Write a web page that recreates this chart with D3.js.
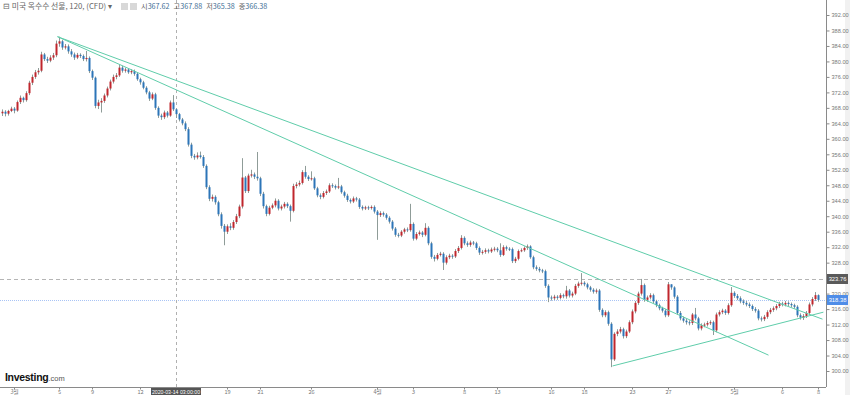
<!DOCTYPE html>
<html>
<head>
<meta charset="utf-8">
<script src="https://cdn.jsdelivr.net/npm/d3@7"></script>
<style>
  body { margin: 0; background: #fff; }
  svg { display: block; }
</style>
</head>
<body>
<div id="chart"></div>
<script>
// 120-minute candles, US corn futures (CFD). open of each bar = previous close
const firstOpen = 366.6
const closes = [
  367.0, 366.5, 367.2, 367.8, 367.3, 369.5, 370.6, 370.0, 371.8, 374.5,
  376.0, 377.2, 377.6, 381.8, 380.6, 380.2, 381.0, 381.6, 384.6, 385.2,
  383.6, 383.9, 382.6, 381.8, 381.0, 381.7, 381.4, 380.6, 380.9, 377.5,
  375.8, 368.5, 369.4, 369.8, 371.2, 373.0, 374.8, 376.0, 376.4, 378.4,
  377.6, 377.9, 377.2, 377.5, 376.8, 375.4, 374.6, 373.2, 372.0, 370.4,
  371.5, 368.0, 366.0, 365.6, 366.8, 366.0, 369.4, 367.62, 366.38, 365.0,
  364.0, 362.5, 358.5, 355.6, 355.2, 355.7, 355.3, 353.0, 347.5, 344.5,
  345.0, 343.6, 340.5, 337.5, 336.0, 337.4, 337.0, 338.5, 340.0, 342.5,
  350.0, 346.5, 350.5, 350.8, 350.2, 349.8, 345.8, 342.6, 340.6, 342.2,
  342.8, 344.0, 342.0, 342.5, 343.2, 342.6, 341.4, 347.8, 348.2, 348.6,
  351.4, 350.2, 349.6, 349.8, 347.2, 345.4, 345.0, 346.0, 346.4, 348.0,
  347.8, 347.4, 347.7, 346.2, 345.3, 344.2, 343.8, 344.6, 344.3, 342.4,
  342.0, 342.3, 342.1, 342.4, 341.2, 340.3, 340.8, 340.4, 339.6, 338.6,
  336.8, 335.2, 335.0, 336.0, 336.6, 336.4, 338.0, 334.2, 335.4, 335.8,
  335.2, 337.0, 333.0, 329.5, 329.0, 330.0, 330.3, 328.0, 329.4, 329.8,
  329.6, 331.0, 331.8, 334.4, 333.0, 332.6, 333.2, 333.0, 331.8, 330.6,
  330.8, 331.2, 330.9, 331.4, 331.6, 331.2, 330.0, 332.0, 331.6, 331.5,
  328.4, 329.0, 331.0, 331.2, 331.8, 332.2, 329.4, 326.8, 326.4, 326.0,
  325.8, 322.0, 319.0, 318.8, 319.2, 318.9, 319.6, 319.3, 320.8, 319.5,
  320.0, 322.0, 322.6, 322.8, 322.4, 321.6, 321.0, 320.5, 320.8, 315.8,
  314.4, 315.2, 312.2, 303.0, 309.6, 310.2, 310.8, 309.0, 310.2, 312.6,
  315.4, 317.6, 320.0, 322.2, 318.4, 319.0, 319.6, 318.0, 317.0, 316.2,
  315.6, 314.4, 322.4, 321.6, 319.2, 315.0, 313.6, 313.0, 312.6, 312.4,
  314.6, 313.6, 311.0, 311.8, 312.0, 312.4, 312.6, 310.5, 314.6, 315.2,
  315.6, 315.0, 317.0, 320.2, 319.4, 318.8, 318.0, 317.6, 317.2, 316.8,
  316.0, 315.6, 313.6, 313.4, 314.0, 315.2, 315.8, 316.2, 316.8, 317.4,
  317.2, 317.6, 317.3, 317.0, 316.6, 314.4, 313.8, 314.2, 315.0, 317.2,
  318.6, 319.6, 318.38
]
const highs = [
  367.6, 367.4, 367.5, 368.3, 368.2, 369.9, 371.2, 370.9, 372.3, 375.0,
  376.6, 377.8, 378.3, 382.5, 382.2, 381.2, 381.6, 382.2, 385.4, 386.4,
  385.6, 384.5, 384.4, 383.2, 382.3, 382.2, 382.1, 381.8, 382.7, 381.3,
  377.9, 376.1, 370.1, 370.5, 371.7, 373.5, 375.3, 376.6, 377.0, 379.1,
  378.9, 378.4, 378.3, 378.0, 377.9, 377.2, 375.8, 375.0, 373.6, 372.4,
  372.0, 371.9, 368.4, 366.5, 367.3, 367.2, 369.9, 371.3, 367.88, 366.7,
  365.4, 364.5, 363.0, 359.0, 356.1, 356.5, 356.7, 355.8, 353.4, 348.0,
  345.6, 345.4, 344.0, 341.0, 338.0, 337.9, 338.2, 339.0, 340.6, 343.0,
  355.0, 350.4, 351.0, 352.0, 351.3, 356.6, 350.2, 346.3, 343.0, 342.7,
  343.3, 344.6, 344.4, 343.0, 343.7, 343.6, 343.0, 348.4, 348.8, 349.2,
  351.9, 353.0, 350.6, 351.6, 350.2, 347.6, 345.9, 346.5, 346.9, 348.5,
  348.5, 348.2, 349.9, 348.1, 346.6, 345.8, 344.6, 345.1, 345.0, 344.7,
  342.8, 342.7, 342.7, 342.8, 342.8, 341.6, 341.3, 341.2, 340.8, 340.0,
  339.0, 337.2, 335.7, 336.4, 337.0, 337.1, 343.2, 338.4, 335.9, 336.3,
  336.2, 338.2, 337.4, 333.4, 330.0, 330.5, 330.8, 330.7, 329.9, 330.3,
  330.2, 331.5, 332.3, 335.1, 334.8, 333.5, 333.7, 333.6, 333.4, 332.2,
  331.3, 331.7, 331.6, 331.9, 332.1, 332.0, 333.0, 332.5, 332.4, 332.0,
  331.9, 329.5, 331.4, 331.7, 332.2, 332.7, 332.5, 329.8, 327.3, 326.9,
  326.4, 326.2, 322.4, 319.5, 319.7, 319.6, 320.1, 320.0, 322.0, 321.2,
  320.5, 322.5, 323.1, 325.3, 323.2, 322.8, 322.0, 321.4, 321.3, 321.2,
  316.2, 315.7, 315.6, 312.6, 310.0, 310.8, 311.4, 311.2, 310.7, 313.1,
  315.9, 318.1, 320.5, 323.8, 322.6, 319.5, 320.1, 320.0, 318.4, 317.4,
  316.6, 316.0, 323.0, 322.4, 321.9, 319.6, 315.5, 314.1, 313.5, 313.1,
  315.0, 316.3, 314.0, 312.3, 312.5, 312.9, 313.1, 313.0, 315.1, 315.7,
  316.1, 316.0, 317.5, 321.7, 320.6, 319.9, 319.3, 318.5, 318.1, 317.7,
  317.2, 316.5, 316.0, 314.1, 314.5, 315.7, 316.3, 316.7, 317.3, 317.9,
  317.9, 318.1, 318.0, 317.7, 317.4, 317.0, 314.9, 314.7, 315.5, 317.7,
  319.1, 320.4, 319.8
]
const lows = [
  365.9, 365.8, 366.0, 366.9, 366.6, 367.0, 369.0, 369.4, 369.6, 371.3,
  373.9, 375.5, 376.6, 377.2, 380.1, 379.6, 379.8, 380.4, 381.1, 383.8,
  383.0, 383.1, 382.0, 381.2, 380.4, 380.6, 380.9, 380.1, 380.0, 377.0,
  375.2, 367.9, 367.7, 366.8, 369.3, 370.7, 372.5, 374.3, 375.4, 376.0,
  377.1, 377.1, 376.8, 376.7, 376.3, 375.0, 374.0, 372.8, 371.5, 369.8,
  370.0, 367.5, 365.4, 364.9, 365.1, 365.5, 365.7, 367.2, 365.38, 364.5,
  363.5, 362.0, 358.0, 355.0, 354.6, 354.7, 354.9, 352.5, 347.0, 343.9,
  343.8, 343.0, 340.0, 336.8, 332.5, 335.4, 336.4, 336.5, 338.0, 339.5,
  342.0, 346.0, 346.0, 350.0, 349.6, 349.2, 345.2, 342.0, 340.0, 340.2,
  341.8, 342.3, 341.5, 341.5, 342.0, 342.1, 338.6, 341.0, 347.2, 347.7,
  348.2, 349.7, 349.1, 349.2, 346.8, 344.9, 344.4, 344.6, 345.5, 346.0,
  347.3, 346.9, 347.0, 345.8, 344.8, 343.7, 343.3, 343.4, 343.8, 341.9,
  341.5, 341.6, 341.6, 341.7, 340.7, 333.9, 339.8, 339.9, 339.1, 338.1,
  336.3, 334.7, 334.5, 334.6, 335.5, 335.9, 336.0, 333.7, 333.8, 335.0,
  334.6, 334.8, 332.5, 329.0, 328.3, 328.6, 329.6, 326.1, 327.5, 328.9,
  329.0, 329.2, 330.5, 331.4, 332.5, 332.1, 332.1, 332.5, 331.3, 330.0,
  330.1, 330.3, 330.4, 330.5, 330.9, 330.7, 329.5, 329.7, 331.1, 331.0,
  327.9, 327.9, 328.6, 330.7, 330.8, 331.3, 329.0, 326.3, 325.9, 325.5,
  325.3, 321.5, 317.8, 318.2, 318.3, 318.4, 318.5, 318.8, 318.7, 319.0,
  319.0, 319.6, 321.5, 322.1, 321.9, 321.1, 320.5, 320.0, 320.0, 315.3,
  313.9, 313.9, 311.7, 301.0, 302.6, 309.0, 309.7, 308.4, 308.5, 309.8,
  312.1, 314.9, 317.1, 319.5, 317.9, 317.9, 318.5, 317.5, 316.5, 315.7,
  315.1, 313.9, 314.0, 321.0, 318.7, 314.5, 313.1, 312.5, 312.0, 311.8,
  311.9, 313.1, 310.5, 310.5, 311.3, 311.5, 311.9, 309.3, 310.0, 314.1,
  314.7, 314.5, 314.6, 316.6, 318.9, 318.3, 317.5, 317.1, 316.7, 316.3,
  315.5, 315.1, 313.1, 312.8, 312.9, 313.5, 314.7, 315.3, 315.7, 316.3,
  316.7, 316.7, 316.8, 316.5, 316.1, 313.9, 313.3, 313.2, 313.7, 314.5,
  316.7, 318.1, 317.9
]

// bottom axis: bar index of each date label
const tickBars = [4, 19, 30, 46, 75, 86, 103, 125, 137, 154, 165, 183, 194, 210, 222, 244, 260, 272]
const tickLabels = ['3월', '5', '9', '12', '19', '21', '26', '4월', '3', '8', '13', '16', '18', '23', '27', '5월', '6', '8']
const priceTicks = d3.range(300, 393, 4)

// drawn trend lines, [bar index, price]
const trendLines = [
  [[18.5, 386.4], [273.5, 313.4]],
  [[18.5, 386.4], [255.5, 304.1]],
  [[203.5, 301.3], [273.8, 315.2]]
]

const crossBar = 58
const crossLabel = '2020-03-14 03:00:00'
const markPrice = 323.76
const lastPrice = 318.38
const title = '미국 옥수수 선물, 120, (CFD)'

function draw(el) {
    const dimensions = {
        width: 850,
        height: 395,
        plotRight: 826,
        plotBottom: 387
    }

    const opens = closes.map((c, i) => i === 0 ? firstOpen : closes[i - 1])
    const bars = closes.map((c, i) => ({ i, o: opens[i], h: highs[i], l: lows[i], c }))

    const x = d3.scaleLinear()
        .domain([0, closes.length - 1])
        .range([2, 818])

    const y = d3.scaleLinear()
        .domain([300, 392])
        .range([371, 15])

    const svg = d3.select(el)
        .append('svg')
        .attr('width', dimensions.width)
        .attr('height', dimensions.height)
        .style('font-family', "'Liberation Sans', Arial, sans-serif")

    svg.append('defs').append('clipPath').attr('id', 'plot')
        .append('rect')
        .attr('width', dimensions.plotRight)
        .attr('height', dimensions.plotBottom)

    // scrollbar strip on the right
    svg.append('rect')
        .attr('x', 845).attr('y', 0)
        .attr('width', 5).attr('height', dimensions.height)
        .attr('fill', '#f1f1f1')

    const plot = svg.append('g').attr('clip-path', 'url(#plot)')

    // price lines
    plot.append('line')
        .attr('x1', 0).attr('x2', dimensions.plotRight)
        .attr('y1', Math.round(y(markPrice)) + 0.5).attr('y2', Math.round(y(markPrice)) + 0.5)
        .attr('stroke', '#b5b5b5')
        .attr('stroke-dasharray', '4,3')
    plot.append('line')
        .attr('x1', 0).attr('x2', dimensions.plotRight)
        .attr('y1', Math.round(y(lastPrice)) + 0.5).attr('y2', Math.round(y(lastPrice)) + 0.5)
        .attr('stroke', '#a9c4f5')
        .attr('stroke-dasharray', '1,1')

    // crosshair
    plot.append('line')
        .attr('x1', Math.round(x(crossBar)) + 0.5).attr('x2', Math.round(x(crossBar)) + 0.5)
        .attr('y1', 0).attr('y2', dimensions.plotBottom)
        .attr('stroke', '#b0b0b0')
        .attr('stroke-dasharray', '3,3')

    // wicks
    plot.append('g')
        .attr('fill', '#8f9c98')
        .selectAll('rect')
        .data(bars)
        .join('rect')
        .attr('x', d => Math.round(x(d.i)))
        .attr('width', 1)
        .attr('y', d => y(d.h))
        .attr('height', d => Math.max(1, y(d.l) - y(d.h)))

    // bodies: red up, blue down
    plot.append('g')
        .selectAll('rect')
        .data(bars)
        .join('rect')
        .attr('x', d => Math.round(x(d.i)) - 0.5)
        .attr('width', 2)
        .attr('y', d => y(Math.max(d.o, d.c)))
        .attr('height', d => Math.max(1, Math.abs(y(d.o) - y(d.c))))
        .attr('fill', d => d.c >= d.o ? '#c0262d' : '#2c75b8')

    // trend lines
    plot.append('g')
        .attr('stroke', '#5fcdaa')
        .attr('stroke-width', 1)
        .selectAll('line')
        .data(trendLines)
        .join('line')
        .attr('x1', d => x(d[0][0])).attr('y1', d => y(d[0][1]))
        .attr('x2', d => x(d[1][0])).attr('y2', d => y(d[1][1]))

    // right price axis; labels hidden where a price tag sits on top of them
    const yAxis = svg.append('g')
        .attr('transform', `translate(${dimensions.plotRight + 0.5},0)`)
        .call(d3.axisRight(y).tickValues(priceTicks).tickFormat(d3.format('.2f')).tickSize(3).tickPadding(2))
    yAxis.select('.domain').attr('stroke', '#8a8a8a').attr('d', `M0,0V${dimensions.plotBottom}`)
    yAxis.selectAll('.tick line').attr('stroke', '#8a8a8a')
    yAxis.selectAll('.tick text').attr('fill', '#777').attr('font-size', 5.6)
        .attr('display', d => [markPrice, lastPrice].some(p => Math.abs(y(p) - y(d)) < 6) ? 'none' : null)

    // bottom date axis
    const xAxis = svg.append('g')
        .attr('transform', `translate(0,${dimensions.plotBottom + 0.5})`)
        .call(d3.axisBottom(x).tickValues(tickBars).tickFormat((d, i) => tickLabels[i]).tickSize(2).tickPadding(1))
    xAxis.select('.domain').attr('stroke', '#8a8a8a').attr('d', `M0,0H${dimensions.plotRight}`)
    xAxis.selectAll('.tick line').attr('stroke', '#8a8a8a')
    xAxis.selectAll('.tick text').attr('fill', '#777').attr('font-size', 5.6)
        .attr('y', 6.3).attr('dy', null)
        .style('font-family', "'Noto Sans CJK KR', 'Liberation Sans', sans-serif")

    // price labels on the axis
    const priceTag = (v, fill) => {
        const g = svg.append('g').attr('transform', `translate(${dimensions.plotRight + 1},${Math.round(y(v))})`)
        g.append('rect').attr('x', 0).attr('y', -5).attr('width', 21).attr('height', 10).attr('fill', fill)
        g.append('text').attr('x', 10.5).attr('y', 2).attr('text-anchor', 'middle')
            .attr('font-size', 5.8).attr('fill', '#fff').text(v.toFixed(2))
    }
    priceTag(markPrice, '#5a5a5a')
    priceTag(lastPrice, '#4f8de8')

    // crosshair date tag
    const cx = Math.round(x(crossBar))
    svg.append('rect')
        .attr('x', cx - 25).attr('y', dimensions.plotBottom + 1)
        .attr('width', 50).attr('height', 7)
        .attr('fill', '#555')
    svg.append('text')
        .attr('x', cx).attr('y', dimensions.plotBottom + 6.5)
        .attr('text-anchor', 'middle')
        .attr('font-size', 5.2).attr('fill', '#fff')
        .text(crossLabel)

    // header with OHLC of the crosshair bar
    const b = bars[crossBar]
    svg.append('text')
        .attr('x', 3).attr('y', 9)
        .attr('font-size', 7.8)
        .attr('fill', '#666')
        .style('font-family', "'Noto Sans CJK KR', sans-serif")
        .text('⊟ ' + title + ' ▾')
    svg.append('rect').attr('x', 121).attr('y', 3).attr('width', 7).attr('height', 7).attr('fill', '#d8d8d8')
    svg.append('rect').attr('x', 130).attr('y', 3).attr('width', 7).attr('height', 7).attr('fill', '#d8d8d8')
    const ohlc = [['시', b.o], ['고', b.h], ['저', b.l], ['종', b.c]]
    const ohlcText = svg.append('text')
        .attr('x', 141).attr('y', 9)
        .attr('font-size', 7.2)
        .style('font-family', "'Noto Sans CJK KR', sans-serif")
    ohlc.forEach(([k, v], i) => {
        ohlcText.append('tspan').attr('dx', i ? 4 : 0).attr('fill', '#666').text(k)
        ohlcText.append('tspan').attr('fill', '#3f6f96').text(v.toFixed(2))
    })

    // watermark logo
    const logo = svg.append('text').attr('x', 5).attr('y', 381)
    logo.append('tspan').attr('font-size', 10.5).attr('font-weight', 'bold').attr('fill', '#111')
        .attr('letter-spacing', -0.3).text('Investing')
    logo.append('tspan').attr('font-size', 7.5).attr('fill', '#555').text('.com')
}

draw('#chart')
</script>
</body>
</html>
